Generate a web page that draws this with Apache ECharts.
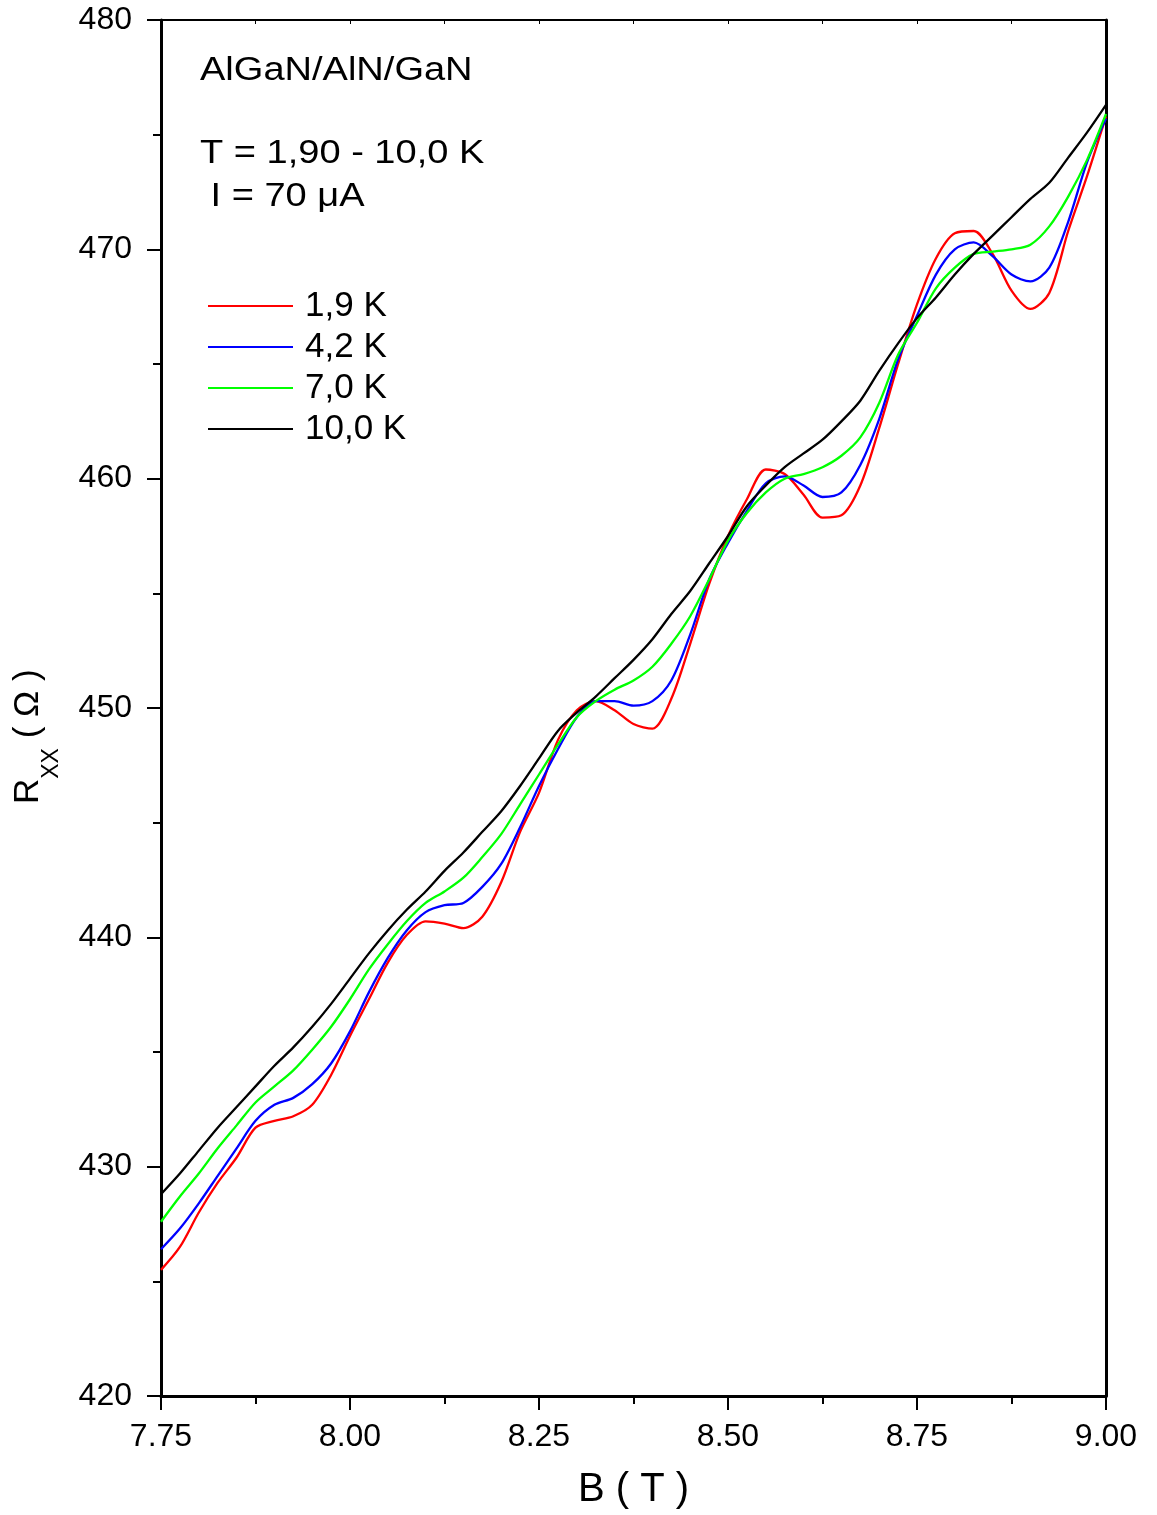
<!DOCTYPE html>
<html>
<head>
<meta charset="utf-8">
<script src="https://cdn.jsdelivr.net/npm/echarts@6/dist/echarts.min.js"></script>
<style>
  html, body { margin: 0; padding: 0; background: #fff; }
  #chart { width: 1157px; height: 1515px; }
</style>
</head>
<body>
<div id="chart"></div>
<script>
// --- Data (B in T, Rxx in Ohm) ---
const bValues = [
  7.75, 7.775, 7.80, 7.825, 7.85, 7.875, 7.90, 7.925, 7.95, 7.975,
  8.00, 8.025, 8.05, 8.075, 8.10, 8.125, 8.15, 8.175, 8.20, 8.225,
  8.25, 8.275, 8.30, 8.325, 8.35, 8.375, 8.40, 8.425, 8.45, 8.475,
  8.50, 8.525, 8.55, 8.575, 8.60, 8.625, 8.65, 8.675, 8.70, 8.725,
  8.75, 8.775, 8.80, 8.825, 8.85, 8.875, 8.90, 8.925, 8.95, 8.975, 9.00
];

const r19K = [
  425.5, 426.5, 428.0, 429.3, 430.4, 431.7, 432.0, 432.2, 432.7, 434.0,
  435.7, 437.3, 438.9, 440.1, 440.7, 440.6, 440.4, 440.9, 442.4, 444.6,
  446.3, 448.6, 449.9, 450.3, 449.9, 449.3, 449.1, 450.4, 452.8, 455.4,
  457.5, 459.1, 460.4, 460.2, 459.3, 458.3, 458.4, 459.7, 462.2, 465.0,
  467.6, 469.6, 470.7, 470.8, 469.8, 468.2, 467.4, 468.1, 470.8, 473.2, 475.8
];

const r42K = [
  426.4, 427.3, 428.4, 429.6, 430.8, 432.0, 432.7, 433.0, 433.6, 434.5,
  435.9, 437.6, 439.1, 440.3, 441.1, 441.4, 441.5, 442.2, 443.2, 444.8,
  446.6, 448.2, 449.6, 450.3, 450.3, 450.1, 450.3, 451.2, 453.2, 455.6,
  457.2, 458.6, 459.8, 460.1, 459.7, 459.2, 459.4, 460.6, 462.6, 465.2,
  467.1, 468.9, 470.0, 470.3, 469.7, 468.9, 468.6, 469.2, 471.2, 473.8, 475.7
];

const r70K = [
  427.6, 428.7, 429.7, 430.8, 431.8, 432.8, 433.5, 434.2, 435.1, 436.1,
  437.3, 438.6, 439.7, 440.7, 441.5, 442.0, 442.6, 443.5, 444.5, 445.8,
  447.1, 448.4, 449.6, 450.3, 450.8, 451.2, 451.8, 452.8, 454.0, 455.6,
  457.3, 458.5, 459.4, 460.0, 460.2, 460.5, 461.0, 461.8, 463.3, 465.4,
  466.8, 468.3, 469.2, 469.8, 469.9, 470.0, 470.2, 471.0, 472.3, 473.9, 475.9
];

const r100K = [
  428.8, 429.7, 430.7, 431.7, 432.6, 433.5, 434.4, 435.2, 436.1, 437.1,
  438.2, 439.3, 440.3, 441.2, 442.0, 442.9, 443.7, 444.6, 445.5, 446.6,
  447.8, 449.0, 449.8, 450.5, 451.3, 452.1, 453.0, 454.1, 455.1, 456.3,
  457.5, 458.8, 459.7, 460.5, 461.1, 461.7, 462.5, 463.4, 464.7, 465.9,
  467.0, 467.9, 468.9, 469.8, 470.6, 471.4, 472.2, 472.9, 474.0, 475.1, 476.3
];

const seriesNames = ['1,9 K', '4,2 K', '7,0 K', '10,0 K'];
const seriesColors = ['#ff0000', '#0000ff', '#00ff00', '#000000'];
const seriesValues = [r19K, r42K, r70K, r100K];

const FONT = "'Liberation Sans', Arial, sans-serif";

const chart = echarts.init(document.getElementById('chart'));

const series = seriesNames.map((name, i) => ({
  name: name,
  type: 'line',
  showSymbol: false,
  smooth: 0.3,
  data: bValues.map((b, j) => [b, seriesValues[i][j]]),
  lineStyle: { color: seriesColors[i], width: 2.3 },
  itemStyle: { color: seriesColors[i] },
  emphasis: { disabled: true }
}));

const option = {
  animation: false,
  backgroundColor: '#fff',
  grid: { left: 161, right: 51, top: 20, bottom: 119, containLabel: false },
  legend: {
    orient: 'vertical',
    left: 203,
    top: 281,
    icon: 'rect',
    itemWidth: 85,
    itemHeight: 2,
    itemGap: 1,
    textStyle: { fontFamily: FONT, fontSize: 35, color: '#000', lineHeight: 40, padding: [0, 0, 0, 7] },
    data: seriesNames
  },
  xAxis: [{
    type: 'value',
    min: 7.75,
    max: 9.0,
    interval: 0.25,
    position: 'bottom',
    name: 'B ( T )',
    nameLocation: 'middle',
    nameGap: 74,
    nameTextStyle: { fontFamily: FONT, fontSize: 40, color: '#000' },
    axisLine: { show: true, lineStyle: { color: '#000', width: 3 } },
    axisTick: { show: true, inside: false, length: 14, lineStyle: { color: '#000', width: 2 } },
    minorTick: { show: true, splitNumber: 2, length: 8, lineStyle: { color: '#000', width: 2 } },
    axisLabel: {
      margin: 25,
      fontFamily: FONT,
      fontSize: 32,
      color: '#000',
      formatter: v => v.toFixed(2)
    },
    splitLine: { show: false }
  }, {
    type: 'value',
    min: 7.75,
    max: 9.0,
    interval: 0.25,
    position: 'top',
    axisLine: { show: true, lineStyle: { color: '#000', width: 2 } },
    axisTick: { show: true, inside: true, length: 4, lineStyle: { color: '#000', width: 1 } },
    minorTick: { show: true, splitNumber: 2, length: 4, lineStyle: { color: '#000', width: 1 } },
    axisLabel: { show: false },
    splitLine: { show: false }
  }],
  yAxis: [{
    type: 'value',
    min: 420,
    max: 480,
    interval: 10,
    position: 'left',
    axisLine: { show: true, lineStyle: { color: '#000', width: 3 } },
    axisTick: { show: true, inside: false, length: 14, lineStyle: { color: '#000', width: 2 } },
    minorTick: { show: true, splitNumber: 2, length: 8, lineStyle: { color: '#000', width: 2 } },
    axisLabel: { margin: 29, fontFamily: FONT, fontSize: 32, color: '#000' },
    splitLine: { show: false }
  }, {
    type: 'value',
    min: 420,
    max: 480,
    interval: 10,
    position: 'right',
    axisLine: { show: true, lineStyle: { color: '#000', width: 3 } },
    axisTick: { show: false },
    axisLabel: { show: false },
    splitLine: { show: false }
  }],
  graphic: [
    {
      type: 'text', left: 200, top: 55, scaleX: 1.17,
      style: { text: 'AlGaN/AlN/GaN', font: '32.5px ' + FONT, fill: '#000' }
    },
    {
      type: 'text', left: 200, top: 138, scaleX: 1.17,
      style: { text: 'T = 1,90 - 10,0 K', font: '32.5px ' + FONT, fill: '#000' }
    },
    {
      type: 'text', left: 200, top: 181, scaleX: 1.17,
      style: { text: ' I = 70 \u03bcA', font: '32.5px ' + FONT, fill: '#000' }
    },
    {
      type: 'text',
      x: 11, y: 804,
      rotation: Math.PI / 2,
      style: {
        text: '{a|R}{b|XX}{a| ( \u03a9 )}',
        fill: '#000',
        rich: {
          a: { fontFamily: FONT, fontSize: 35, color: '#000', verticalAlign: 'top', lineHeight: 40 },
          b: { fontFamily: FONT, fontSize: 23, color: '#000', verticalAlign: 'middle', lineHeight: 82 }
        }
      }
    }
  ],
  series: series
};

chart.setOption(option);
</script>
</body>
</html>
